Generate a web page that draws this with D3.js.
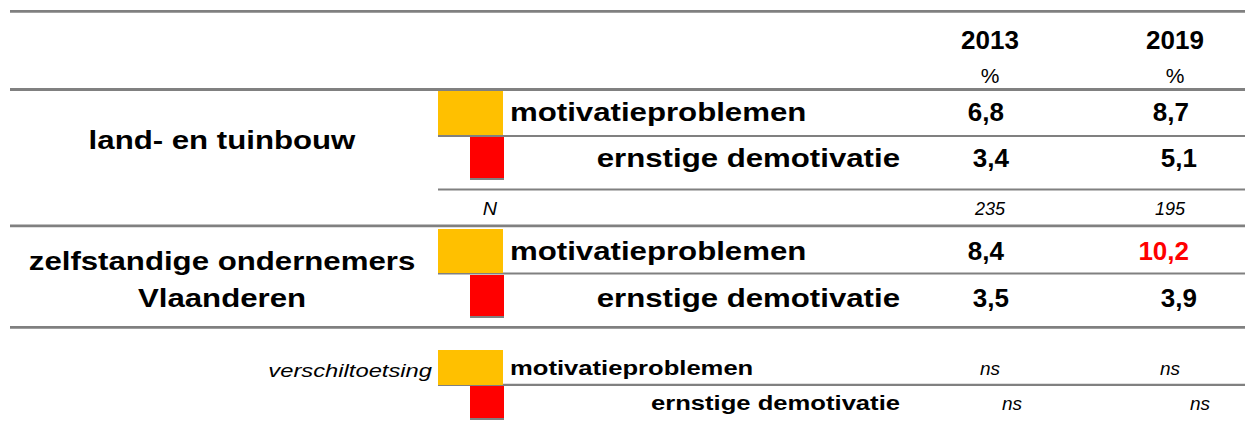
<!DOCTYPE html>
<html><head><meta charset="utf-8">
<script src="https://cdn.jsdelivr.net/npm/d3@7"></script>
<style>html,body{margin:0;padding:0;background:#fff}svg{display:block}text{font-family:"Liberation Sans",Arial,sans-serif}</style>
</head><body>
<svg id="chart" width="1245" height="421"></svg>
<script>
// ---- data ----
const years = ["2013", "2019"];
const unitLabels = ["%", "%"];
const groups = ["land- en tuinbouw", "zelfstandige ondernemers Vlaanderen"];
const indicators = ["motivatieproblemen", "ernstige demotivatie"];
const landValues = [[6.8, 8.7], [3.4, 5.1]];
const zelfValues = [[8.4, 10.2], [3.5, 3.9]];
const zelfHighlight = [[false, true], [false, false]];
const nValues = [235, 195];
const nLabel = "N";
const testLabel = "verschiltoetsing";
const significance = [["ns", "ns"], ["ns", "ns"]];

// ---- layout ----
const svg = d3.select("#chart");
const W = 1245;
const SX = 1.2; // horizontal stretch of label text
const fmt = d3.formatLocale({decimal: ",", thousands: ".", grouping: [3], currency: ["", ""]}).format(".1f");
const xYear = d3.scalePoint().domain(years).range([990, 1175]);
const colorInd = d3.scaleOrdinal().domain(indicators).range(["#FFC000", "#FF0000"]);
const gray = "#808080";

// stretched label helper
function label(txt, x, y, opts) {
  const g = svg.append("g").attr("transform", `translate(${x},${y}) scale(${opts.sx || SX},1)`);
  return g.append("text").attr("x", 0).attr("y", 0)
    .attr("text-anchor", opts.anchor || "start")
    .attr("font-size", opts.size || 26)
    .attr("font-weight", opts.weight || "bold")
    .attr("font-style", opts.style || "normal")
    .text(txt);
}

// horizontal rules
const fullRules = [11.3, 89.5, 225.8, 327.3];
const partRules = [136, 189.5, 273.5, 384.8];
svg.selectAll("line.full").data(fullRules).join("line")
  .attr("x1", 10).attr("x2", W).attr("y1", d => d).attr("y2", d => d)
  .attr("stroke", gray).attr("stroke-width", 2.8);
svg.selectAll("line.part").data(partRules).join("line")
  .attr("x1", 438).attr("x2", W).attr("y1", d => d).attr("y2", d => d)
  .attr("stroke", gray).attr("stroke-width", 2.2);

// header
svg.selectAll("text.year").data(years).join("text")
  .attr("x", d => xYear(d)).attr("y", 49)
  .attr("text-anchor", "middle").attr("font-size", 26).attr("font-weight", "bold")
  .text(d => d);
svg.selectAll("text.unit").data(unitLabels).join("text")
  .attr("x", (d, i) => xYear(years[i])).attr("y", 83)
  .attr("text-anchor", "middle").attr("font-size", 21)
  .text(d => d);

function swatches(yTopY, yBotY, hY, hR) {
  svg.append("rect").attr("x", 438).attr("y", yTopY).attr("width", 65).attr("height", hY)
    .attr("fill", colorInd(indicators[0]));
  svg.append("rect").attr("x", 470).attr("y", yBotY).attr("width", 34).attr("height", hR)
    .attr("fill", colorInd(indicators[1]));
  svg.append("line").attr("x1", 470).attr("x2", 504).attr("y1", yBotY + hR).attr("y2", yBotY + hR)
    .attr("stroke", gray).attr("stroke-width", 2);
}

const valueRight = [[14, 14], [19, 22]];
function block(values, highlight, yRows, groupLines, groupY) {
  groupLines.forEach((t, i) => label(t, 222, groupY + i * 37, {anchor: "middle"}));
  label(indicators[0], 510, yRows[0], {});
  label(indicators[1], 900, yRows[1], {anchor: "end"});
  values.forEach((row, r) => {
    svg.selectAll(null).data(row).join("text")
      .attr("x", (d, i) => xYear(years[i]) + valueRight[r][i]).attr("y", yRows[r])
      .attr("text-anchor", "end").attr("font-size", 26).attr("font-weight", "bold")
      .attr("fill", (d, i) => highlight && highlight[r][i] ? "#FF0000" : "#000")
      .text(d => fmt(d));
  });
}

swatches(91, 137, 44, 42);
block(landValues, null, [121, 167], [groups[0]], 149);
// N row
label(nLabel, 490, 215, {anchor: "middle", size: 18, weight: "normal", style: "italic", sx: 1.1});
svg.selectAll("text.n").data(nValues).join("text")
  .attr("x", (d, i) => xYear(years[i]) + (i ? -5 : 0)).attr("y", 215)
  .attr("text-anchor", "middle").attr("font-size", 18).attr("font-style", "italic")
  .text(d => d);

swatches(229, 275, 44, 42);
block(zelfValues, zelfHighlight, [260, 307], ["zelfstandige ondernemers", "Vlaanderen"], 270);

// significance block
swatches(350, 386, 35, 33);
label(testLabel, 432, 377, {anchor: "end", size: 19, weight: "normal", style: "italic", sx: 1.25});
label(indicators[0], 510, 375, {size: 21, sx: 1.22});
label(indicators[1], 900, 410, {anchor: "end", size: 21, sx: 1.22});
const sigOffs = [[0, -5], [22, 25]];
significance.forEach((row, r) => {
  svg.selectAll(null).data(row).join("text")
    .attr("x", (d, i) => xYear(years[i]) + sigOffs[r][i]).attr("y", r === 0 ? 375 : 410)
    .attr("text-anchor", "middle").attr("font-size", 19).attr("font-style", "italic")
    .text(d => d);
});
</script>
</body></html>
